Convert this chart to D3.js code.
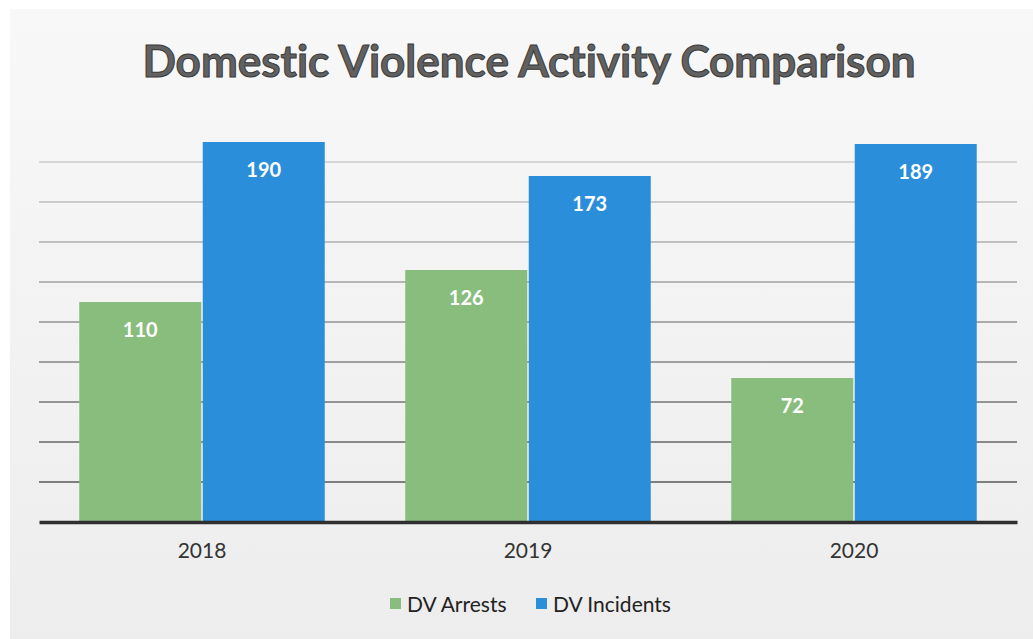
<!DOCTYPE html>
<html>
<head>
<meta charset="utf-8">
<script src="https://cdn.jsdelivr.net/npm/d3@7"></script>
<style>
html,body{margin:0;padding:0;background:#fff;}
svg{display:block;}
text{font-variant-ligatures:none;font-feature-settings:"liga" 0, "dlig" 0;}
</style>
</head>
<body>
<svg id="chart" width="1033" height="639"></svg>
<script>
const categories = ["2018", "2019", "2020"];
const seriesNames = ["DV Arrests", "DV Incidents"];
const arrests = [110, 126, 72];
const incidents = [190, 173, 189];
const yTicks = [0, 20, 40, 60, 80, 100, 120, 140, 160, 180];
const colors = ["#89bd7d", "#2b8edb"];

const svg = d3.select("#chart");
const W = 1033, H = 639;
const m = {left: 39, right: 16, top: 122, bottom: 117};
const baseY = H - m.bottom;
const FONT = "Lato, 'Open Sans', sans-serif";

const defs = svg.append("defs");
const grad = defs.append("linearGradient").attr("id", "bg").attr("x1", 0).attr("y1", 0).attr("x2", 0).attr("y2", 1);
grad.append("stop").attr("offset", "0%").attr("stop-color", "#f8f8f8");
grad.append("stop").attr("offset", "100%").attr("stop-color", "#ededed");
svg.append("rect").attr("x", 10).attr("y", 9).attr("width", W - 10).attr("height", H - 9).attr("fill", "url(#bg)");

const x0 = d3.scaleBand().domain(categories).range([m.left, W - m.right]).paddingInner(0.247).paddingOuter(0.1235);
const x1 = d3.scaleBand().domain(seriesNames).range([0, x0.bandwidth()]).paddingInner(0.012);
const y = d3.scaleLinear().domain([0, 200]).range([baseY, baseY - 400]);

const grid = svg.append("g").attr("class", "grid");
grid.selectAll("line").data(yTicks.filter(d => d > 0)).join("line")
  .attr("x1", m.left).attr("x2", W - m.right)
  .attr("y1", d => y(d)).attr("y2", d => y(d))
  .attr("stroke", d => d3.interpolateRgb("#4a4a4a", "#cccccc")(d / 180))
  .attr("stroke-width", 1.3);

const data = categories.map((c, i) => ({cat: c, vals: [arrests[i], incidents[i]]}));

const groups = svg.append("g").selectAll("g").data(data).join("g")
  .attr("transform", d => `translate(${x0(d.cat)},0)`);

groups.selectAll("rect").data(d => d.vals.map((v, j) => ({name: seriesNames[j], v, j}))).join("rect")
  .attr("x", d => x1(d.name))
  .attr("width", x1.bandwidth())
  .attr("y", d => y(d.v))
  .attr("height", d => y(0) - y(d.v))
  .attr("fill", d => colors[d.j]);

groups.selectAll("text.val").data(d => d.vals.map((v, j) => ({name: seriesNames[j], v, j}))).join("text")
  .attr("class", "val")
  .attr("x", d => x1(d.name) + x1.bandwidth() / 2)
  .attr("y", d => y(d.v) + 35)
  .attr("text-anchor", "middle")
  .attr("fill", "#ffffff")
  .attr("font-family", FONT)
  .attr("font-weight", 700)
  .attr("font-size", 20)
  .text(d => d.v);

const xAxis = d3.axisBottom(x0).tickSize(0).tickPadding(21);
const gx = svg.append("g").attr("transform", `translate(0,${baseY})`).call(xAxis);
gx.select(".domain").attr("stroke", "#2f2f2f").attr("stroke-width", 3.5);
gx.selectAll("text").attr("font-family", FONT).attr("font-size", 21).attr("fill", "#333");

svg.append("text").attr("x", 529).attr("y", 77).attr("text-anchor", "middle")
  .attr("font-family", FONT).attr("font-weight", 700).attr("font-size", 44)
  .attr("fill", "#616161").attr("stroke", "#3a3a3a").attr("stroke-width", 1)
  .text("Domestic Violence Activity Comparison");

const legend = svg.append("g").attr("transform", "translate(390,604)");
const items = [{name: seriesNames[0], x: 0, c: colors[0]}, {name: seriesNames[1], x: 146, c: colors[1]}];
const li = legend.selectAll("g").data(items).join("g").attr("transform", d => `translate(${d.x},0)`);
li.append("rect").attr("x", 0).attr("y", -6).attr("width", 11).attr("height", 11).attr("fill", d => d.c);
li.append("text").attr("x", 17).attr("y", 8).attr("font-family", FONT).attr("font-size", 21).attr("fill", "#222").text(d => d.name);
</script>
</body>
</html>
